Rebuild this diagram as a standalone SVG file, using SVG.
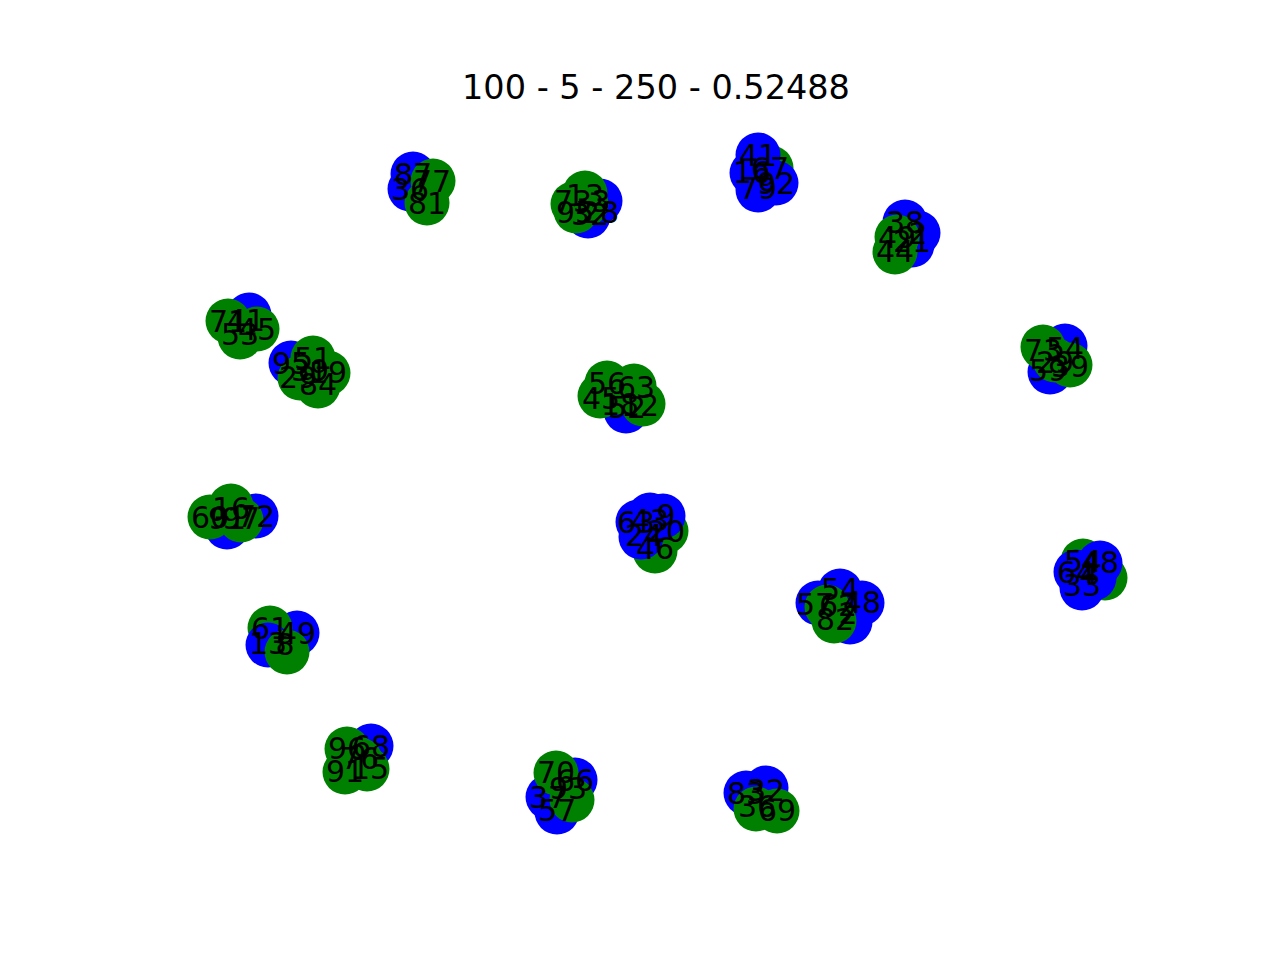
<svg xmlns="http://www.w3.org/2000/svg" width="1280" height="960" viewBox="0 0 1280 960">
<style>
.b{fill:#0000ff}
.g{fill:#008000}
text{font-family:"DejaVu Sans",sans-serif;font-size:30px;fill:#000;text-anchor:middle;dominant-baseline:central}
.title{font-size:33.5px;dominant-baseline:auto}
</style>
<defs><circle id="n" r="22.5"/></defs>
<rect width="1280" height="960" fill="#fff"/>
<text class="title" x="656" y="99">100 - 5 - 250 - 0.52488</text>
<g id="edges"/>
<g id="nodes">
<g id="n87"><use href="#n" class="b" x="413" y="174"/></g>
<g id="n36"><use href="#n" class="b" x="410" y="189"/></g>
<g id="n77"><use href="#n" class="g" x="433" y="181"/></g>
<g id="n81"><use href="#n" class="g" x="427" y="203"/></g>
<g id="n3"><use href="#n" class="b" x="600" y="201"/></g>
<g id="n32"><use href="#n" class="b" x="588" y="216"/></g>
<g id="n13"><use href="#n" class="g" x="585" y="193"/></g>
<g id="n73"><use href="#n" class="g" x="573" y="204"/></g>
<g id="n95"><use href="#n" class="g" x="576" y="211"/></g>
<g id="n28"><use href="#n" class="g" x="586" y="204"/></g>
<g id="n67"><use href="#n" class="g" x="771" y="168"/></g>
<g id="n41"><use href="#n" class="b" x="758" y="155"/></g>
<g id="n16"><use href="#n" class="b" x="752" y="173"/></g>
<g id="n79"><use href="#n" class="b" x="758" y="190"/></g>
<g id="n92"><use href="#n" class="b" x="776" y="183"/></g>
<g id="n38"><use href="#n" class="b" x="905" y="222"/></g>
<g id="n2"><use href="#n" class="b" x="918" y="233"/></g>
<g id="n21"><use href="#n" class="b" x="912" y="245"/></g>
<g id="n49"><use href="#n" class="g" x="897" y="237"/></g>
<g id="n44"><use href="#n" class="g" x="895" y="252"/></g>
<g id="n41b"><use href="#n" class="b" x="249" y="315"/></g>
<g id="n71"><use href="#n" class="g" x="228" y="321"/></g>
<g id="n45"><use href="#n" class="g" x="257" y="329"/></g>
<g id="n53"><use href="#n" class="g" x="240" y="337"/></g>
<g id="n95b"><use href="#n" class="b" x="291" y="363"/></g>
<g id="n51"><use href="#n" class="g" x="313" y="358"/></g>
<g id="n19"><use href="#n" class="g" x="328" y="373"/></g>
<g id="n29"><use href="#n" class="g" x="300" y="378"/></g>
<g id="n84"><use href="#n" class="g" x="318" y="386"/></g>
<g id="n39"><use href="#n" class="g" x="310" y="371"/></g>
<g id="n52"><use href="#n" class="b" x="626" y="411"/></g>
<g id="n56"><use href="#n" class="g" x="607" y="383"/></g>
<g id="n63"><use href="#n" class="g" x="634" y="386"/></g>
<g id="n45b"><use href="#n" class="g" x="600" y="396"/></g>
<g id="n12"><use href="#n" class="g" x="643" y="404"/></g>
<g id="n18"><use href="#n" class="g" x="617" y="392"/></g>
<g id="n54"><use href="#n" class="b" x="1065" y="346"/></g>
<g id="n59"><use href="#n" class="b" x="1050" y="372"/></g>
<g id="n73b"><use href="#n" class="g" x="1043" y="347"/></g>
<g id="n39b"><use href="#n" class="g" x="1070" y="365"/></g>
<g id="n29b"><use href="#n" class="g" x="1055" y="360"/></g>
<g id="n72"><use href="#n" class="b" x="256" y="516"/></g>
<g id="n91"><use href="#n" class="b" x="227" y="527"/></g>
<g id="n60"><use href="#n" class="g" x="210" y="517"/></g>
<g id="n16b"><use href="#n" class="g" x="231" y="506"/></g>
<g id="n97"><use href="#n" class="g" x="241" y="520"/></g>
<g id="n46"><use href="#n" class="g" x="655" y="551"/></g>
<g id="n20"><use href="#n" class="g" x="666" y="531"/></g>
<g id="n63b"><use href="#n" class="b" x="638" y="522"/></g>
<g id="n43"><use href="#n" class="b" x="650" y="515"/></g>
<g id="n9"><use href="#n" class="b" x="663" y="516"/></g>
<g id="n24"><use href="#n" class="b" x="641" y="537"/></g>
<g id="n54b"><use href="#n" class="g" x="1083" y="561"/></g>
<g id="n8"><use href="#n" class="g" x="1105" y="578"/></g>
<g id="n48"><use href="#n" class="b" x="1100" y="563"/></g>
<g id="n64"><use href="#n" class="b" x="1076" y="572"/></g>
<g id="n4"><use href="#n" class="b" x="1094" y="578"/></g>
<g id="n33"><use href="#n" class="b" x="1082" y="588"/></g>
<g id="n57"><use href="#n" class="b" x="818" y="603"/></g>
<g id="n54c"><use href="#n" class="b" x="840" y="591"/></g>
<g id="n48b"><use href="#n" class="b" x="862" y="603"/></g>
<g id="n89"><use href="#n" class="b" x="850" y="622"/></g>
<g id="n62"><use href="#n" class="g" x="827" y="607"/></g>
<g id="n82"><use href="#n" class="g" x="834" y="621"/></g>
<g id="n49b"><use href="#n" class="b" x="297" y="633"/></g>
<g id="n61"><use href="#n" class="g" x="270" y="628"/></g>
<g id="n13b"><use href="#n" class="b" x="268" y="645"/></g>
<g id="n8b"><use href="#n" class="g" x="287" y="652"/></g>
<g id="n68"><use href="#n" class="b" x="371" y="746"/></g>
<g id="n96"><use href="#n" class="g" x="347" y="749"/></g>
<g id="n76"><use href="#n" class="g" x="360" y="760"/></g>
<g id="n91b"><use href="#n" class="g" x="345" y="772"/></g>
<g id="n15"><use href="#n" class="g" x="367" y="769"/></g>
<g id="n66"><use href="#n" class="b" x="575" y="780"/></g>
<g id="n37"><use href="#n" class="b" x="548" y="797"/></g>
<g id="n57b"><use href="#n" class="b" x="557" y="812"/></g>
<g id="n70"><use href="#n" class="g" x="556" y="773"/></g>
<g id="n93"><use href="#n" class="g" x="572" y="800"/></g>
<g id="n83"><use href="#n" class="b" x="746" y="793"/></g>
<g id="n32b"><use href="#n" class="b" x="766" y="788"/></g>
<g id="n36b"><use href="#n" class="g" x="756" y="809"/></g>
<g id="n69"><use href="#n" class="g" x="777" y="811"/></g>
</g>
<g id="labels">
<text x="413" y="174">87</text>
<text x="410" y="189">36</text>
<text x="432" y="181">77</text>
<text x="427" y="203">81</text>
<text x="601" y="201">3</text>
<text x="590" y="214">32</text>
<text x="585" y="195">13</text>
<text x="573" y="201">73</text>
<text x="575" y="212">95</text>
<text x="600" y="212">28</text>
<text x="770" y="168">67</text>
<text x="758" y="155">41</text>
<text x="752" y="172">16</text>
<text x="758" y="188">79</text>
<text x="776" y="183">92</text>
<text x="905" y="222">38</text>
<text x="918" y="233">2</text>
<text x="912" y="241">21</text>
<text x="897" y="237">49</text>
<text x="895" y="251">44</text>
<text x="246" y="320">41</text>
<text x="228" y="321">71</text>
<text x="257" y="329">45</text>
<text x="240" y="334">53</text>
<text x="291" y="363">95</text>
<text x="313" y="358">51</text>
<text x="328" y="372">19</text>
<text x="298" y="377">29</text>
<text x="318" y="384">84</text>
<text x="310" y="370">39</text>
<text x="627" y="407">52</text>
<text x="607" y="383">56</text>
<text x="636" y="387">63</text>
<text x="601" y="398">45</text>
<text x="640" y="405">12</text>
<text x="620" y="404">18</text>
<text x="1065" y="348">54</text>
<text x="1048" y="370">59</text>
<text x="1043" y="350">73</text>
<text x="1070" y="366">39</text>
<text x="1055" y="362">29</text>
<text x="256" y="516">72</text>
<text x="227" y="518">91</text>
<text x="210" y="517">60</text>
<text x="231" y="508">16</text>
<text x="241" y="518">97</text>
<text x="655" y="548">46</text>
<text x="666" y="531">20</text>
<text x="636" y="522">63</text>
<text x="650" y="520">43</text>
<text x="666" y="515">9</text>
<text x="644" y="535">24</text>
<text x="1083" y="561">54</text>
<text x="1100" y="562">48</text>
<text x="1076" y="572">64</text>
<text x="1089" y="574">4</text>
<text x="1082" y="585">33</text>
<text x="815" y="604">57</text>
<text x="840" y="589">54</text>
<text x="862" y="602">48</text>
<text x="838" y="605">62</text>
<text x="835" y="619">82</text>
<text x="848" y="613">2</text>
<text x="297" y="633">49</text>
<text x="270" y="628">61</text>
<text x="268" y="643">13</text>
<text x="285" y="644">8</text>
<text x="371" y="746">68</text>
<text x="347" y="748">96</text>
<text x="360" y="758">76</text>
<text x="345" y="771">91</text>
<text x="370" y="768">15</text>
<text x="575" y="780">66</text>
<text x="548" y="797">37</text>
<text x="557" y="810">57</text>
<text x="556" y="772">70</text>
<text x="568" y="788">93</text>
<text x="746" y="793">83</text>
<text x="766" y="790">32</text>
<text x="757" y="806">36</text>
<text x="777" y="810">69</text>
</g>
</svg>
